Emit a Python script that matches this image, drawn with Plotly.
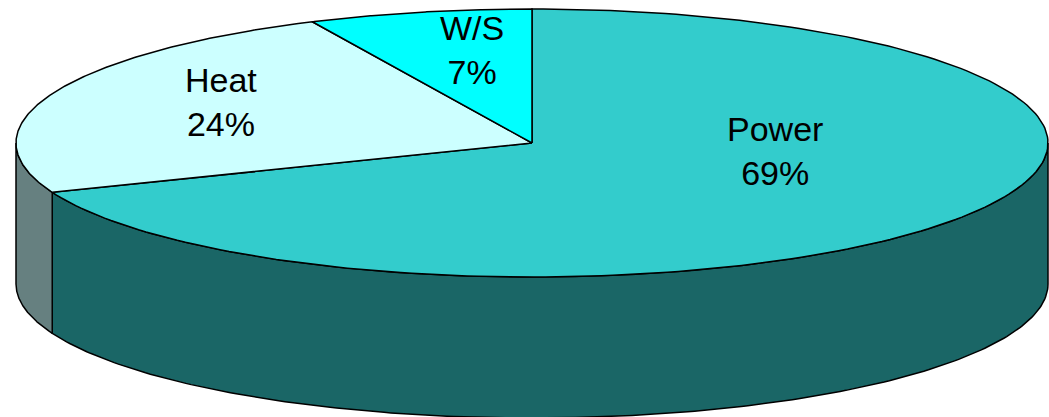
import numpy as np
import plotly.graph_objects as go

# Energy use split
labels = ["Power", "Heat", "W/S"]
shares = [69, 24, 7]
top_colors = ["#33CCCC", "#CCFFFF", "#00FFFF"]
side_colors = ["#1A6666", "#668080", "#008080"]

# Tilted-disc geometry (screen pixels, y pointing down)
cx, cy = 532, 143
rx, ry = 516, 134
depth = 141
W, H = 1049, 417


def ellipse_pts(t0, t1, dy=0.0, n=200):
    t = np.radians(np.linspace(t0, t1, n))
    return cx + rx * np.cos(t), cy + dy + ry * np.sin(t)


# Slice angles: start at 12 o'clock, go clockwise on screen
total = sum(shares)
starts, ends = [], []
a = -90.0
for s in shares:
    starts.append(a)
    a += 360.0 * s / total
    ends.append(a)

fig = go.Figure()
line = dict(color="black", width=1.5)

# Visible wall: front half of the disc (t in [0, 180])
for lab, t0, t1, col in zip(labels, starts, ends, side_colors):
    lo, hi = max(t0, 0.0), min(t1, 180.0)
    # also check wrap-around segment
    segs = []
    if hi > lo:
        segs.append((lo, hi))
    lo2, hi2 = max(t0 - 360, 0.0), min(t1 - 360, 180.0)
    if hi2 > lo2:
        segs.append((lo2, hi2))
    for a0, a1 in segs:
        xt, yt = ellipse_pts(a0, a1)
        xb, yb = ellipse_pts(a1, a0, dy=depth)
        xs = np.concatenate([xt, xb, xt[:1]])
        ys = np.concatenate([yt, yb, yt[:1]])
        fig.add_trace(go.Scatter(x=xs, y=ys, mode="lines", fill="toself",
                                 fillcolor=col, line=line, hoverinfo="skip",
                                 showlegend=False))

# Top faces
for lab, t0, t1, col in zip(labels, starts, ends, top_colors):
    xa, ya = ellipse_pts(t0, t1)
    xs = np.concatenate([[cx], xa, [cx]])
    ys = np.concatenate([[cy], ya, [cy]])
    fig.add_trace(go.Scatter(x=xs, y=ys, mode="lines", fill="toself",
                             fillcolor=col, line=line, hoverinfo="skip",
                             showlegend=False))

# Labels
label_pos = {"Power": (775, 151), "Heat": (221, 102), "W/S": (472, 50)}
for lab, s in zip(labels, shares):
    x, y = label_pos[lab]
    fig.add_annotation(x=x, y=y, text=f"{lab}<br>{s}%", showarrow=False,
                       font=dict(family="Liberation Sans, Arial", size=34,
                                 color="black"),
                       xanchor="center", yanchor="middle")

fig.update_layout(
    width=W, height=H,
    margin=dict(l=0, r=0, t=0, b=0),
    paper_bgcolor="white", plot_bgcolor="white",
    xaxis=dict(range=[0, W], visible=False, fixedrange=True),
    yaxis=dict(range=[H, 0], visible=False, fixedrange=True),
)

fig.write_html("out.html")
